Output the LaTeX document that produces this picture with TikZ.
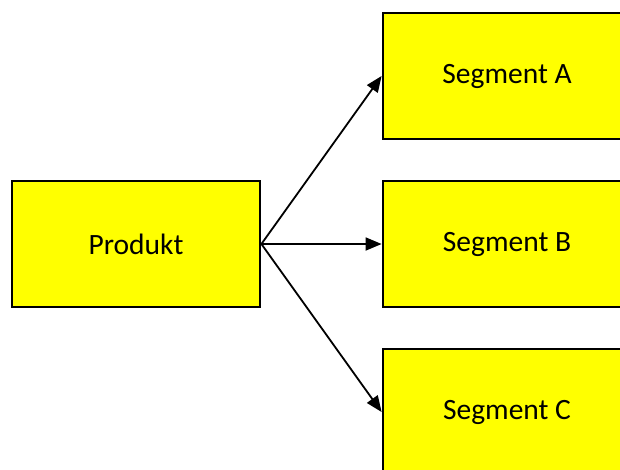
\documentclass[tikz,border=0pt]{standalone}
\usepackage{fontspec}
\setmainfont{Carlito}
\usetikzlibrary{arrows.meta}
\definecolor{boxyellow}{HTML}{FFFF00}
\begin{document}
\begin{tikzpicture}[x=1pt,y=-1pt,
  box/.style={draw=black,fill=boxyellow,line width=2.8pt,minimum width=248pt,
    minimum height=126pt,inner sep=0pt,font=\fontsize{29.5}{34}\selectfont},
  link/.style={line width=1.8pt,-{Triangle[length=16pt,width=13pt]}}]
\useasboundingbox (0,0) rectangle (620,469);
\begin{scope}
\clip (0,0) rectangle (620,469);
\node[box] (prod) at (136,244) {Produkt};
\node[box] (sa) at (507,76) {Segment A};
\node[box] (sb) at (507,244) {Segment B};
\node[box] (sc) at (507,412) {Segment C};
\coordinate (src) at (prod.east);
\draw[link] (src) -- (sa.west);
\draw[link] (src) -- (sb.west);
\draw[link] (src) -- (sc.west);
\end{scope}
\end{tikzpicture}
\end{document}
